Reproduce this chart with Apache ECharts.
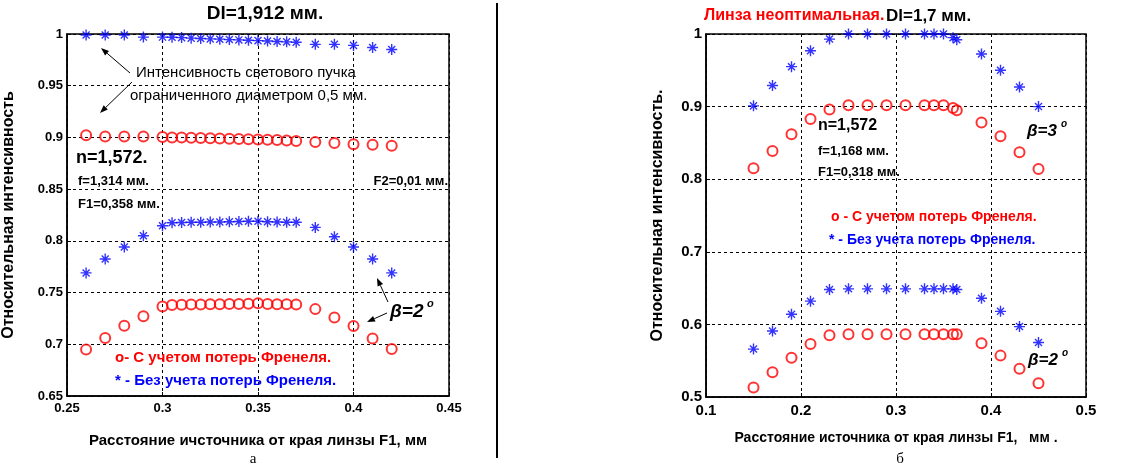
<!DOCTYPE html>
<html>
<head>
<meta charset="utf-8">
<script src="https://cdn.jsdelivr.net/npm/echarts@6/dist/echarts.min.js"></script>
<style>
  html, body { margin: 0; padding: 0; background: #fff; }
  #chart { width: 1126px; height: 470px; }
</style>
</head>
<body>
<div id="chart"></div>
<script>
// panel a: Dl=1,912 mm
const xA = [0.26, 0.27, 0.28, 0.29, 0.30, 0.305, 0.31, 0.315, 0.32, 0.325, 0.33, 0.335, 0.34, 0.345, 0.35, 0.355, 0.36, 0.365, 0.37, 0.38, 0.39, 0.40, 0.41, 0.42];
const blueTopA = [0.999, 0.999, 0.999, 0.997, 0.997, 0.9968, 0.9965, 0.996, 0.9957, 0.9953, 0.995, 0.9946, 0.9943, 0.994, 0.9936, 0.9932, 0.9928, 0.9924, 0.992, 0.990, 0.990, 0.989, 0.987, 0.985];
const redTopA = [0.902, 0.901, 0.901, 0.901, 0.9005, 0.900, 0.900, 0.8998, 0.8995, 0.8993, 0.899, 0.8988, 0.8985, 0.8983, 0.898, 0.8978, 0.8975, 0.897, 0.8965, 0.8955, 0.8945, 0.8935, 0.893, 0.892];
const blueLowA = [0.769, 0.7825, 0.794, 0.805, 0.8146, 0.8175, 0.8178, 0.818, 0.818, 0.8182, 0.8183, 0.8185, 0.8187, 0.819, 0.819, 0.8185, 0.8183, 0.818, 0.818, 0.813, 0.804, 0.794, 0.7825, 0.769];
const redLowA = [0.695, 0.706, 0.718, 0.727, 0.7365, 0.738, 0.7382, 0.7385, 0.7385, 0.7387, 0.7388, 0.739, 0.739, 0.7392, 0.7396, 0.739, 0.7388, 0.7386, 0.7384, 0.734, 0.726, 0.7176, 0.7057, 0.6954];

// panel b: lens not optimal, Dl=1,7 mm
const xB = [0.15, 0.17, 0.19, 0.21, 0.23, 0.25, 0.27, 0.29, 0.31, 0.33, 0.34, 0.35, 0.36, 0.364, 0.39, 0.41, 0.43, 0.45];
const blueB3 = [0.901, 0.929, 0.955, 0.977, 0.993, 1.0, 1.0, 1.0, 1.0, 1.0, 1.0, 1.0, 0.995, 0.992, 0.9725, 0.950, 0.927, 0.900];
const redB3 = [0.815, 0.839, 0.862, 0.883, 0.896, 0.902, 0.902, 0.902, 0.902, 0.902, 0.902, 0.902, 0.898, 0.895, 0.878, 0.859, 0.837, 0.814];
const blueB2 = [0.566, 0.591, 0.614, 0.632, 0.648, 0.649, 0.649, 0.649, 0.649, 0.649, 0.649, 0.649, 0.649, 0.648, 0.636, 0.618, 0.597, 0.575];
const redB2 = [0.513, 0.534, 0.554, 0.573, 0.585, 0.5865, 0.5865, 0.5865, 0.5865, 0.5865, 0.5865, 0.5865, 0.5865, 0.5865, 0.574, 0.557, 0.539, 0.519];

const yNameA = 'Относительная интенсивность';
const yNameB = 'Относительная интенсивность.';
const xNameA = 'Расстояние ичсточника от края линзы F1, мм';
const xNameB = 'Расстояние источника от края линзы F1,   мм .';

const FONT = '"Liberation Sans", Arial, sans-serif';
const STAR = 'path://M5,0L5,10M0,5L10,5M1.8,1.8L8.2,8.2M8.2,1.8L1.8,8.2';

function pairs(xs, ys) { return xs.map((x, i) => [x, ys[i]]); }

function circles(xi, data) {
  return { type: 'scatter', xAxisIndex: xi, yAxisIndex: xi, data: data, clip: false,
    symbol: 'circle', symbolSize: 10,
    itemStyle: { color: 'rgba(0,0,0,0)', borderColor: '#ff0000', borderWidth: 2 } };
}
function stars(xi, data) {
  return { type: 'scatter', xAxisIndex: xi, yAxisIndex: xi, data: data, clip: false,
    symbol: STAR, symbolSize: 11,
    itemStyle: { color: 'rgba(0,0,0,0)', borderColor: '#0000ff', borderWidth: 1.4 } };
}

function txt(x, y, text, size, color, opts) {
  opts = opts || {};
  return { type: 'text', z: 50, style: {
    x: x, y: y, text: text, fill: color || '#000',
    font: (opts.style || '') + ' ' + (opts.weight || 'bold') + ' ' + size + 'px ' + (opts.family || FONT),
    textAlign: opts.align || 'left', textVerticalAlign: 'middle' } };
}

function arrow(x1, y1, x2, y2) {
  const a = Math.atan2(y2 - y1, x2 - x1), L = 8, W = 3;
  const bx = x2 - L * Math.cos(a), by = y2 - L * Math.sin(a);
  return [
    { type: 'line', z: 50, shape: { x1: x1, y1: y1, x2: bx, y2: by }, style: { stroke: '#000', lineWidth: 1 } },
    { type: 'polygon', z: 50, shape: { points: [[x2, y2],
      [bx + W * Math.sin(a), by - W * Math.cos(a)], [bx - W * Math.sin(a), by + W * Math.cos(a)]] },
      style: { fill: '#000' } }
  ];
}

function xAxisOf(gi, min, max, step, name, gap, size, nameSize) {
  return { type: 'value', gridIndex: gi, min: min, max: max, interval: step,
    name: name, nameLocation: 'middle', nameGap: gap,
    nameTextStyle: { fontFamily: FONT, fontWeight: 'bold', fontSize: nameSize, color: '#000' },
    axisLine: { show: true, lineStyle: { color: '#000', width: 1.5 } },
    axisTick: { show: true, inside: true, length: 4, lineStyle: { color: '#000' } },
    axisLabel: { fontFamily: FONT, fontWeight: 'bold', fontSize: size, color: '#000', margin: 6 },
    splitLine: { show: true, lineStyle: { color: '#000', type: [3, 3], width: 1 } } };
}
function yAxisOf(gi, min, max, step, name, gap, size, nameSize) {
  return { type: 'value', gridIndex: gi, min: min, max: max, interval: step,
    name: name, nameLocation: 'middle', nameGap: gap,
    nameTextStyle: { fontFamily: FONT, fontWeight: 'bold', fontSize: nameSize, color: '#000' },
    axisLine: { show: true, lineStyle: { color: '#000', width: 1.5 } },
    axisTick: { show: true, inside: true, length: 4, lineStyle: { color: '#000' } },
    axisLabel: { fontFamily: FONT, fontWeight: 'bold', fontSize: size, color: '#000', margin: 4 },
    splitLine: { show: true, lineStyle: { color: '#000', type: [3, 3], width: 1 } } };
}

const graphic = [
  // divider
  { type: 'line', shape: { x1: 497, y1: 3, x2: 497, y2: 458 }, style: { stroke: '#000', lineWidth: 2 } },
  // panel a titles and notes
  txt(265, 14, 'Dl=1,912 мм.', 19, '#000', { align: 'center' }),
  txt(136, 73, 'Интенсивность светового пучка', 15, '#000', { weight: 'normal' }),
  txt(130, 96, 'ограниченного диаметром 0,5 мм.', 15, '#000', { weight: 'normal' }),
  txt(76, 158, 'n=1,572.', 18),
  txt(78, 181, 'f=1,314 мм.', 13),
  txt(78, 204, 'F1=0,358 мм.', 13),
  txt(448, 181, 'F2=0,01 мм.', 13, '#000', { align: 'right' }),
  txt(115, 358, 'o- С учетом потерь Френеля.', 15, '#ff0000'),
  txt(115, 381, '* - Без учета потерь Френеля.', 15, '#0000ff'),
  txt(390, 312, 'β=2', 19, '#000', { style: 'italic' }),
  txt(427, 304, 'o', 11, '#000', { style: 'italic' }),
  txt(253, 459, 'а', 15, '#000', { weight: 'normal', family: '"Liberation Serif", serif', align: 'center' }),
  // panel b titles and notes
  txt(704, 16, 'Линза неоптимальная.', 16, '#ff0000'),
  txt(886, 16, 'Dl=1,7 мм.', 17, '#000'),
  txt(818, 126, 'n=1,572', 16),
  txt(818, 151, 'f=1,168 мм.', 13),
  txt(818, 172, 'F1=0,318 мм.', 13),
  txt(1027, 131, 'β=3', 17, '#000', { style: 'italic' }),
  txt(1061, 124, 'o', 10, '#000', { style: 'italic' }),
  txt(831, 217, 'o - С учетом потерь Френеля.', 14, '#ff0000'),
  txt(829, 240, '* - Без учета потерь Френеля.', 14, '#0000ff'),
  txt(1028, 360, 'β=2', 17, '#000', { style: 'italic' }),
  txt(1062, 353, 'o', 10, '#000', { style: 'italic' }),
  txt(900, 459, 'б', 15, '#000', { weight: 'normal', family: '"Liberation Serif", serif', align: 'center' })
].concat(
  arrow(130, 73, 101, 48),
  arrow(132, 82, 100, 113),
  arrow(388, 302, 377, 278),
  arrow(387, 313, 367, 322)
);

const option = {
  animation: false,
  backgroundColor: '#fff',
  grid: [
    { left: 66, top: 34, width: 383, height: 362, show: true, borderColor: '#000', borderWidth: 1.5 },
    { left: 706, top: 34, width: 380, height: 363, show: true, borderColor: '#000', borderWidth: 1.5 }
  ],
  xAxis: [
    xAxisOf(0, 0.25, 0.45, 0.05, xNameA, 37, 13, 15),
    xAxisOf(1, 0.1, 0.5, 0.1, xNameB, 34, 15, 14)
  ],
  yAxis: [
    yAxisOf(0, 0.65, 1, 0.05, yNameA, 50, 13, 16),
    yAxisOf(1, 0.5, 1, 0.1, yNameB, 40, 15, 16)
  ],
  graphic: graphic,
  series: [
    stars(0, pairs(xA, blueTopA)),
    circles(0, pairs(xA, redTopA)),
    stars(0, pairs(xA, blueLowA)),
    circles(0, pairs(xA, redLowA)),
    stars(1, pairs(xB, blueB3)),
    circles(1, pairs(xB, redB3)),
    stars(1, pairs(xB, blueB2)),
    circles(1, pairs(xB, redB2))
  ]
};

const chart = echarts.init(document.getElementById('chart'));
chart.setOption(option);
</script>
</body>
</html>
